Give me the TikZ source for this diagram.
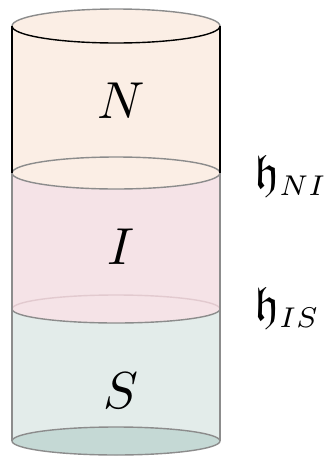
\documentclass[tikz,border=0pt]{standalone}
\usepackage{amssymb}
\definecolor{cN}{HTML}{FBEEE5}
\definecolor{cI}{HTML}{F5E3E7}
\definecolor{cS}{HTML}{E3ECEA}
\definecolor{cB}{HTML}{C5D9D5}
\definecolor{cEdge}{HTML}{8C8C8C}
\definecolor{cFaint}{HTML}{E2CACF}
\newcommand{\hsub}[1]{\mathfrak{h}_{\scalebox{0.85}{$\scriptstyle #1$}}}
\begin{document}
\begin{tikzpicture}[x=1pt,y=-1pt,line width=1.4pt,
  big/.style={inner sep=0pt, scale=5.2},
  lab/.style={inner sep=0pt, anchor=base west, scale=4.8}]
\useasboundingbox (0,0) rectangle (328,456);
% S body
\fill[cS] (12,309) -- (220,309) -- (220,441) arc[start angle=0,end angle=-180,x radius=104,y radius=-14] -- cycle;
\filldraw[fill=cB,draw=cEdge] (116,441) ellipse[x radius=104,y radius=14];
% I body
\fill[cI] (12,173) -- (220,173) -- (220,309) arc[start angle=0,end angle=-180,x radius=104,y radius=-14] -- cycle;
\draw[cFaint] (12,309) arc[start angle=180,end angle=0,x radius=104,y radius=-14];
\draw[cEdge] (12,309) arc[start angle=180,end angle=360,x radius=104,y radius=-14];
% N body
\fill[cN] (12,26) -- (220,26) -- (220,173) arc[start angle=0,end angle=-180,x radius=104,y radius=-16] -- cycle;
\draw[cEdge] (116,173) ellipse[x radius=104,y radius=16];
% sides
\draw[cEdge] (12,173) -- (12,441) (220,173) -- (220,441);
\draw[black] (12,26) -- (12,173) (220,26) -- (220,173);
% top ellipse
\fill[cN] (116,26) ellipse[x radius=104,y radius=17];
\draw[cEdge] (12,26) arc[start angle=180,end angle=0,x radius=104,y radius=-17];
\draw[black] (12,26) arc[start angle=180,end angle=360,x radius=104,y radius=-17];
% labels
\node[big] (n) at (121,101) {$N$};
\node[big] (i) at (121,247) {$I$};
\node[big] (s) at (121,391) {$S$};
\node[lab] (hni) at (251,188) {$\hsub{NI}$};
\node[lab] (his) at (251,320) {$\hsub{IS}$};
\end{tikzpicture}
\end{document}
